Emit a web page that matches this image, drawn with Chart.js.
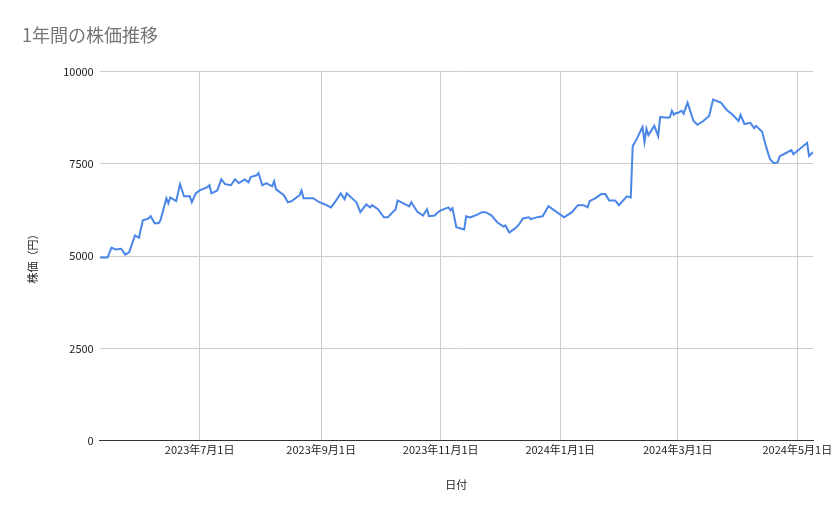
<!DOCTYPE html>
<html>
<head>
<meta charset="utf-8">
<script src="https://cdn.jsdelivr.net/npm/chart.js@4"></script>
<style>
  html, body { margin: 0; background: #fff; }
  #wrap { width: 839px; height: 519px; }
</style>
</head>
<body>
<div id="wrap"><canvas id="c"></canvas></div>
<script>
const dates = [
  '2023-05-11','2023-05-15','2023-05-17','2023-05-19','2023-05-22','2023-05-24','2023-05-26','2023-05-29','2023-05-31','2023-06-02',
  '2023-06-05','2023-06-06','2023-06-08','2023-06-10','2023-06-11','2023-06-14','2023-06-15','2023-06-16','2023-06-19','2023-06-21',
  '2023-06-23','2023-06-26','2023-06-27','2023-06-29','2023-07-01','2023-07-05','2023-07-06','2023-07-07','2023-07-10','2023-07-12',
  '2023-07-14','2023-07-17','2023-07-19','2023-07-21','2023-07-24','2023-07-26','2023-07-27','2023-07-30','2023-07-31','2023-08-02',
  '2023-08-04','2023-08-07','2023-08-08','2023-08-09','2023-08-13','2023-08-15','2023-08-17','2023-08-21','2023-08-22','2023-08-23',
  '2023-08-28','2023-08-31','2023-09-03','2023-09-06','2023-09-08','2023-09-11','2023-09-13','2023-09-14','2023-09-19','2023-09-21',
  '2023-09-24','2023-09-26','2023-09-27','2023-09-30','2023-10-03','2023-10-05','2023-10-09','2023-10-10','2023-10-13','2023-10-16',
  '2023-10-17','2023-10-20','2023-10-23','2023-10-25','2023-10-26','2023-10-29','2023-10-30','2023-11-01','2023-11-05','2023-11-06',
  '2023-11-07','2023-11-09','2023-11-13','2023-11-14','2023-11-16','2023-11-20','2023-11-22','2023-11-24','2023-11-27','2023-11-30',
  '2023-12-03','2023-12-04','2023-12-06','2023-12-09','2023-12-11','2023-12-13','2023-12-16','2023-12-17','2023-12-20','2023-12-23',
  '2023-12-26','2023-12-29','2024-01-03','2024-01-07','2024-01-10','2024-01-13','2024-01-15','2024-01-16','2024-01-19','2024-01-22',
  '2024-01-24','2024-01-26','2024-01-29','2024-01-31','2024-02-04','2024-02-06','2024-02-07','2024-02-09','2024-02-12','2024-02-13',
  '2024-02-14','2024-02-15','2024-02-18','2024-02-20','2024-02-21','2024-02-25','2024-02-26','2024-02-27','2024-02-28','2024-02-29',
  '2024-03-01','2024-03-03','2024-03-04','2024-03-06','2024-03-09','2024-03-11','2024-03-14','2024-03-17','2024-03-19','2024-03-23',
  '2024-03-26','2024-03-29','2024-04-01','2024-04-02','2024-04-04','2024-04-07','2024-04-09','2024-04-10','2024-04-13','2024-04-15',
  '2024-04-17','2024-04-19','2024-04-21','2024-04-22','2024-04-24','2024-04-28','2024-04-29','2024-05-06','2024-05-07','2024-05-09'
];
const prices = [
  4960,4960,5230,5180,5200,5040,5100,5560,5500,5970,
  6020,6080,5890,5890,5970,6570,6430,6590,6490,6950,
  6620,6620,6460,6700,6780,6870,6920,6700,6780,7080,
  6950,6920,7080,6980,7080,7000,7140,7190,7250,6920,
  6980,6890,7030,6810,6650,6460,6490,6650,6780,6570,
  6570,6460,6400,6320,6460,6700,6540,6700,6460,6190,
  6400,6320,6380,6270,6050,6050,6270,6510,6430,6350,
  6460,6210,6100,6270,6080,6100,6160,6240,6320,6240,
  6300,5780,5720,6080,6050,6130,6190,6190,6100,5910,
  5800,5830,5640,5750,5860,6020,6050,6000,6050,6080,
  6350,6240,6050,6190,6380,6380,6320,6490,6570,6680,
  6680,6510,6510,6380,6620,6590,7980,8170,8500,8090,
  8450,8280,8530,8250,8770,8750,8770,8940,8830,8880,
  8880,8940,8860,9160,8660,8560,8660,8800,9240,9160,
  8960,8830,8660,8830,8580,8610,8470,8530,8370,7980,
  7630,7520,7540,7710,7760,7870,7760,8070,7710,7820
];
const xStart = '2023-05-11';
const xEnd = '2024-05-09';
const xTicks = ['2023-07-01','2023-09-01','2023-11-01','2024-01-01','2024-03-01','2024-05-01'];
const yTicks = [0, 2500, 5000, 7500, 10000];

const points = dates.map((d, i) => ({ x: Date.parse(d), y: prices[i] }));
const font = { family: "'Noto Sans CJK JP', 'Noto Sans', sans-serif", size: 11 };

new Chart(document.getElementById('c'), {
  type: 'line',
  data: {
    datasets: [{
      data: points,
      borderColor: '#4a86e8',
      borderWidth: 2,
      pointRadius: 0,
      tension: 0,
      fill: false
    }]
  },
  options: {
    responsive: true,
    maintainAspectRatio: false,
    animation: false,
    layout: { padding: { left: 22, right: 26, top: 8, bottom: 24 } },
    plugins: {
      legend: { display: false },
      tooltip: { enabled: false },
      title: {
        display: true, text: '1年間の株価推移', align: 'start',
        color: '#757575', font: { ...font, size: 18, weight: 'normal' },
        padding: { top: 16, bottom: 26 }
      }
    },
    scales: {
      x: {
        type: 'linear',
        min: Date.parse(xStart), max: Date.parse(xEnd),
        afterBuildTicks: ax => { ax.ticks = xTicks.map(d => ({ value: Date.parse(d) })); },
        ticks: {
          color: '#222', font, maxRotation: 0, autoSkip: false,
          callback: v => { const d = new Date(v); return d.getUTCFullYear() + '年' + (d.getUTCMonth() + 1) + '月' + d.getUTCDate() + '日'; }
        },
        grid: { color: '#cccccc', drawTicks: false },
        border: { color: '#333' },
        title: { display: true, text: '日付', color: '#222', font, padding: { top: 18 } }
      },
      y: {
        min: 0, max: 10000,
        afterBuildTicks: ax => { ax.ticks = yTicks.map(v => ({ value: v })); },
        ticks: { color: '#222', font, padding: 6, callback: v => String(v) },
        grid: { color: '#cccccc', drawTicks: false },
        border: { display: false },
        title: { display: true, text: '株価（円）', color: '#222', font, padding: { bottom: 18 } }
      }
    }
  }
});
</script>
</body>
</html>
